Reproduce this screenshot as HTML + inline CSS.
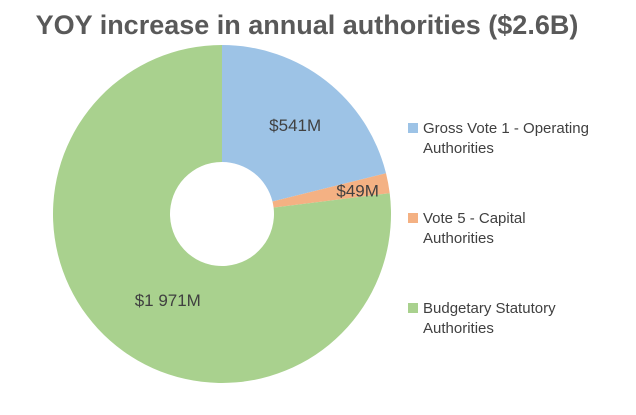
<!DOCTYPE html>
<html><head><meta charset="utf-8"><style>
body{margin:0;background:#fff;width:636px;height:410px;overflow:hidden;font-family:"Liberation Sans",Arial,sans-serif}
</style></head><body>
<svg width="636" height="410">
<text x="307" y="34" text-anchor="middle" font-size="27" font-weight="bold" fill="#595959">YOY increase in annual authorities ($2.6B)</text>
<g id="slices"></g>
<g id="labels"></g>
<g id="legend"></g>
</svg>
<script>
const categories=["Gross Vote 1 - Operating|Authorities","Vote 5 - Capital|Authorities","Budgetary Statutory|Authorities"];
const values=[541,49,1971];
const valueLabels=["$541M","$49M","$1 971M"];
const colors=["#9DC3E6","#F4B183","#A9D18E"];
const NS="http://www.w3.org/2000/svg";
const cx=222,cy=214,R=169,r=52;
const labelR=[122,140,100];
const total=values.reduce((a,b)=>a+b,0);
function pt(a,rad){return [cx+rad*Math.sin(a),cy-rad*Math.cos(a)];}
let acc=0;
const sg=document.getElementById('slices'),lg=document.getElementById('labels'),gg=document.getElementById('legend');
values.forEach((v,i)=>{
 const a0=acc/total*2*Math.PI;acc+=v;const a1=acc/total*2*Math.PI;
 const big=(a1-a0)>Math.PI?1:0;
 const p0=pt(a0,R),p1=pt(a1,R),q1=pt(a1,r),q0=pt(a0,r);
 const p=document.createElementNS(NS,'path');
 p.setAttribute('d',`M${p0[0]},${p0[1]}A${R},${R} 0 ${big} 1 ${p1[0]},${p1[1]}L${q1[0]},${q1[1]}A${r},${r} 0 ${big} 0 ${q0[0]},${q0[1]}Z`);
 p.setAttribute('fill',colors[i]);
 
 
 sg.appendChild(p);
 const am=(a0+a1)/2;const lp=pt(am,labelR[i]);
 const t=document.createElementNS(NS,'text');
 t.setAttribute('x',lp[0]+(i==2?12:-2));t.setAttribute('y',lp[1]+(i==0?13:i==2?17:8));
 t.setAttribute('text-anchor','middle');t.setAttribute('font-size','17');t.setAttribute('fill','#404040');
 t.textContent=valueLabels[i];
 
 
 lg.appendChild(t);
 const y=128+i*90;
 const sq=document.createElementNS(NS,'rect');
 sq.setAttribute('x',408);sq.setAttribute('y',y-5);sq.setAttribute('width',10);sq.setAttribute('height',10);sq.setAttribute('fill',colors[i]);
 
 
 gg.appendChild(sq);
 categories[i].split('|').forEach((line,k)=>{
  const tt=document.createElementNS(NS,'text');
  tt.setAttribute('x',423);tt.setAttribute('y',y+5+k*20);tt.setAttribute('font-size','15');tt.setAttribute('fill','#404040');
  tt.textContent=line;
  
  
  gg.appendChild(tt);
 });
});
</script>
</body></html>
